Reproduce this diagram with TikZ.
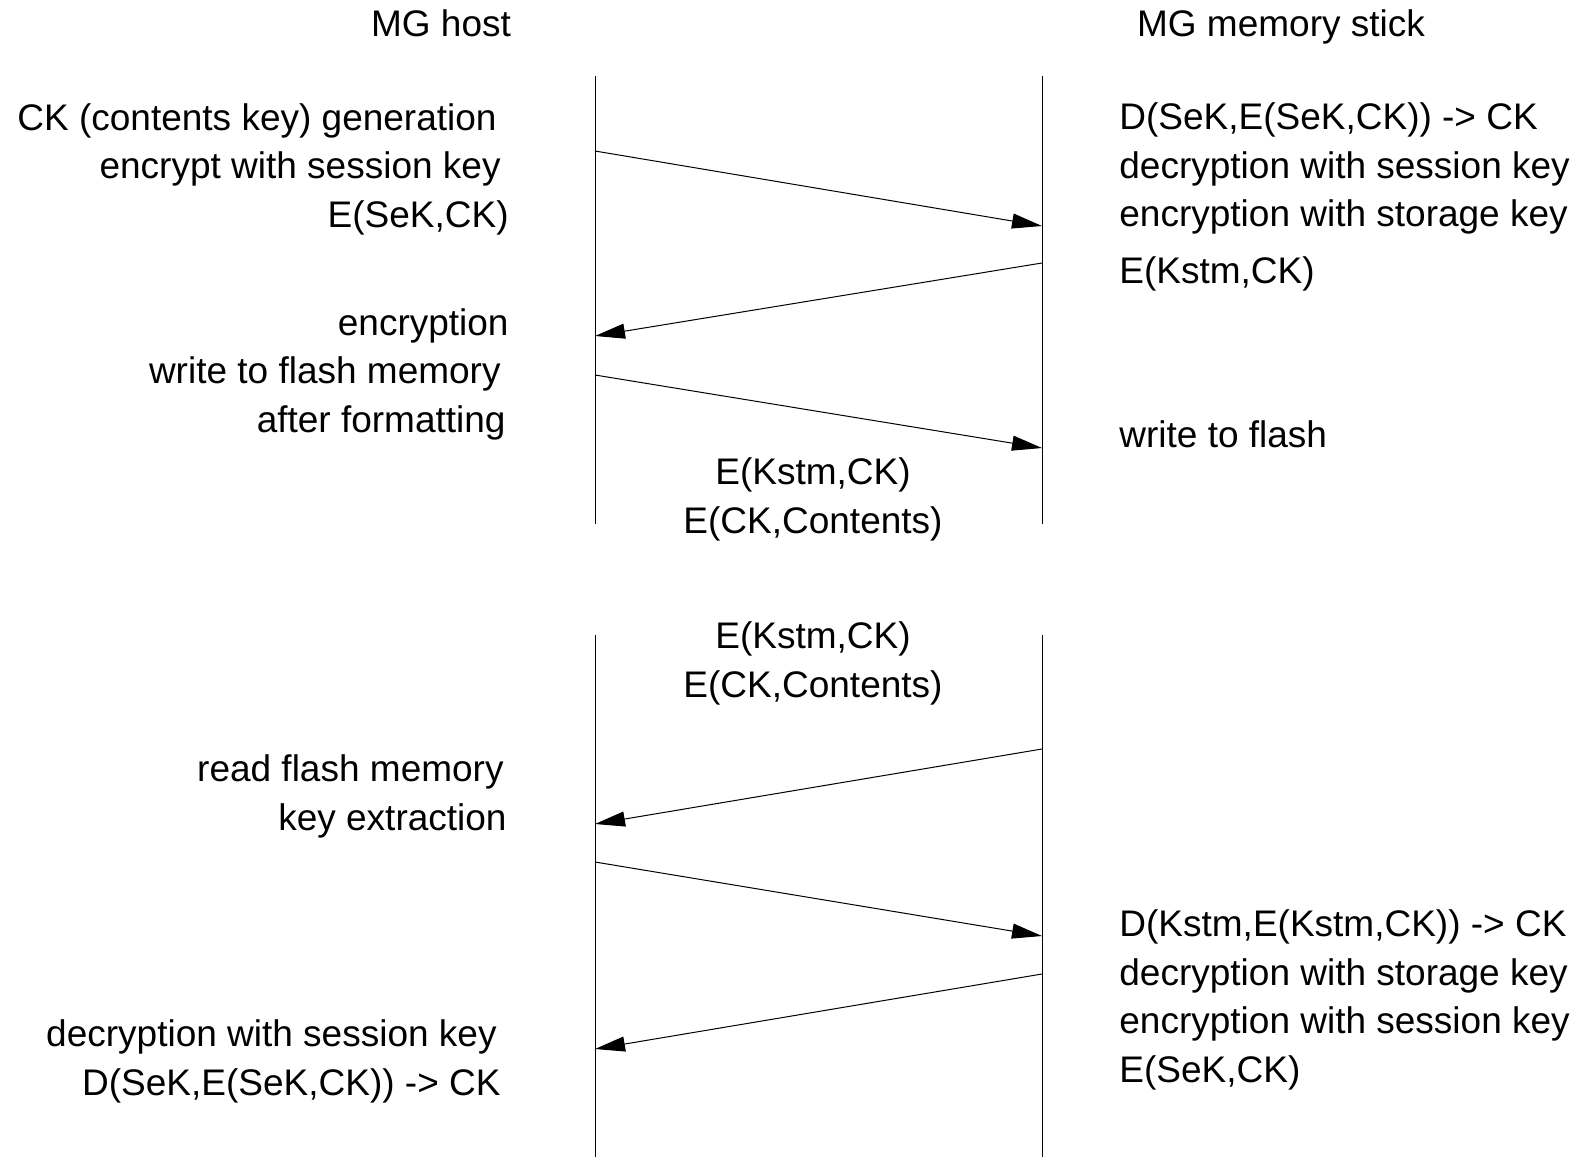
\documentclass[tikz,border=0pt]{standalone}
\usepackage{fontspec}
\setmainfont{Liberation Sans}
\usetikzlibrary{arrows.meta}
\begin{document}
\begin{tikzpicture}[x=0.5pt,y=-0.5pt,font=\fontsize{18.5}{24.2}\selectfont,
    msg/.style={-{Triangle[length=15pt,width=7.5pt]},line width=0.5pt},
    life/.style={line width=0.5pt},
    txt/.style={inner sep=0pt}]
                \useasboundingbox (0,0) rectangle (1581,1157);
                \node[txt,anchor=base] (host) at (441,36) {MG host}; %ホスト
                \node[txt,anchor=base] (stick) at (1281,36) {MG memory stick}; %メモリースティック
                \coordinate (H1) at (595,76); \coordinate (H2) at (595,524); %ホスト側の線(上)
                \coordinate (S1) at (1042,76); \coordinate (S2) at (1042,524); %スティック側の線(上)
                \coordinate (H3) at (595,635); \coordinate (H4) at (595,1157); %ホスト側の線(下)
                \coordinate (S3) at (1042,635); \coordinate (S4) at (1042,1157); %スティック側の線(下)
                \foreach \P/\Q in {H1/H2,S1/S2,H3/H4,S3/S4} \draw[life] (\P) -- (\Q);

                \coordinate (a1) at (595,151); \coordinate (b1) at (1042,226); %矢印1
                \coordinate (a2) at (1042,263); \coordinate (b2) at (595,336); %矢印2
                \coordinate (a3) at (595,375); \coordinate (b3) at (1042,448); %矢印3
                \coordinate (a4) at (1042,749); \coordinate (b4) at (595,824); %矢印4
                \coordinate (a5) at (595,862); \coordinate (b5) at (1042,936); %矢印5
                \coordinate (a6) at (1042,974); \coordinate (b6) at (595,1049); %矢印6
                \foreach \i in {1,...,6} \draw[msg] (a\i) -- (b\i);

                \node[txt,anchor=base east,align=right] (gen) at (509,227)
                    {CK (contents key) generation\kern6pt\\encrypt with session key\kern4pt\\E(SeK,CK)};
                \node[txt,anchor=base west,align=left] (dec) at (1119,283)
                    {D(SeK,E(SeK,CK)) -> CK\\decryption with session key\\encryption with storage key\\[4pt]E(Kstm,CK)};
                \node[txt,anchor=base east,align=right] (enc) at (509,432)
                    {encryption\\write to flash memory\kern4pt\\after formatting\kern1.5pt};
                \node[txt,anchor=base west] (wr) at (1119,447) {write to flash};
                \node[txt,anchor=base,align=center] (data1) at (813,533) {E(Kstm,CK)\\E(CK,Contents)};
                \node[txt,anchor=base,align=center] (data2) at (813,697) {E(Kstm,CK)\\E(CK,Contents)};
                \node[txt,anchor=base east,align=right] (rd) at (509,830)
                    {read flash memory\kern2.5pt\\key extraction\kern1pt};
                \node[txt,anchor=base west,align=left] (dec2) at (1119,1082)
                    {D(Kstm,E(Kstm,CK)) -> CK\\decryption with storage key\\encryption with session key\\E(SeK,CK)};
                \node[txt,anchor=base east,align=right] (dec3) at (509,1095)
                    {decryption with session key\kern6pt\\D(SeK,E(SeK,CK)) -> CK\kern4pt};

            \end{tikzpicture}
\end{document}
